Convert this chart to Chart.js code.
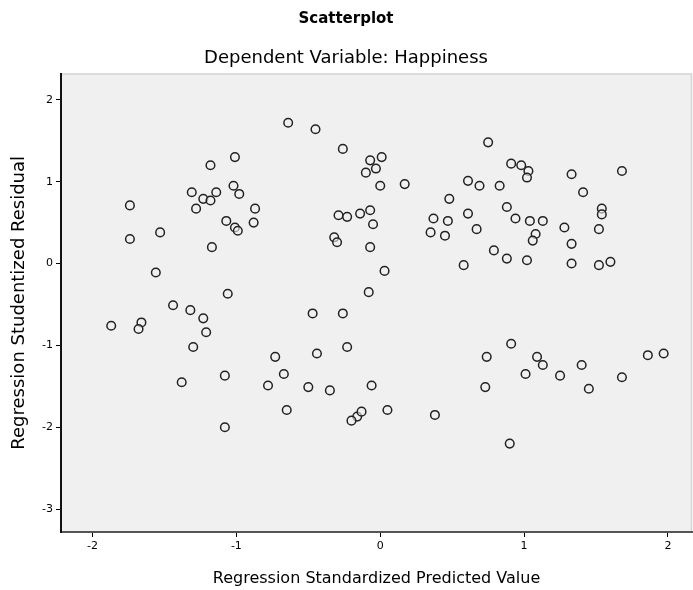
<!DOCTYPE html>
<html>
<head>
<meta charset="utf-8">
<script src="https://cdn.jsdelivr.net/npm/chart.js@4.4.1/dist/chart.umd.min.js"></script>
<style>
  html, body { margin: 0; padding: 0; background: #ffffff; }
  #wrap { width: 693px; height: 590px; }
</style>
</head>
<body>
<div id="wrap"><canvas id="c" width="693" height="590"></canvas></div>
<script>
const chartTitle = "Scatterplot";
const chartSubtitle = "Dependent Variable: Happiness";
const xAxisTitle = "Regression Standardized Predicted Value";
const yAxisTitle = "Regression Studentized Residual";
const xTickValues = [-2, -1, 0, 1, 2];
const yTickValues = [2, 1, 0, -1, -2, -3];

const predicted = [
  -0.64,-0.45,-0.26,-0.07,0.01,-0.03,-0.10,0.00,-1.18,-1.01,
  -1.31,-1.23,-1.14,-1.28,-1.18,-1.02,-0.98,-1.07,-1.01,-0.99,
  -0.87,-0.88,-1.74,-1.53,-1.74,-1.17,-1.56,-1.06,-0.29,-0.14,
  -0.07,-0.05,-0.23,-0.32,-0.30,-0.07,0.03,-0.08,0.17,0.75,
  0.91,0.98,1.03,1.02,0.61,0.69,0.83,1.33,1.41,1.68,
  0.48,1.54,1.54,0.88,0.94,1.04,1.13,1.08,1.06,1.28,
  1.33,1.52,0.37,0.47,0.35,0.45,0.61,0.67,0.79,0.88,
  1.02,0.58,1.33,1.52,1.60,-1.44,-1.32,-1.23,-1.21,-1.87,
  -1.66,-1.68,-1.30,-0.47,-0.26,-0.73,-0.44,-0.23,-1.38,-1.08,
  -0.67,-0.78,-0.50,-0.35,-0.06,-0.65,-0.16,-0.13,-0.20,0.05,
  -1.08,0.38,0.90,0.74,0.91,0.73,1.09,1.13,1.01,1.25,
  1.40,1.45,1.68,1.86,1.97
];
const residual = [
  1.72,1.64,1.40,1.26,1.30,1.16,1.11,0.95,1.20,1.30,
  0.87,0.79,0.87,0.67,0.77,0.95,0.85,0.52,0.44,0.40,
  0.67,0.50,0.71,0.38,0.30,0.20,-0.11,-0.37,0.59,0.61,
  0.65,0.48,0.57,0.32,0.26,0.20,-0.09,-0.35,0.97,1.48,
  1.22,1.20,1.13,1.05,1.01,0.95,0.95,1.09,0.87,1.13,
  0.79,0.67,0.60,0.69,0.55,0.52,0.52,0.36,0.28,0.44,
  0.24,0.42,0.55,0.52,0.38,0.34,0.61,0.42,0.16,0.06,
  0.04,-0.02,0.00,-0.02,0.02,-0.51,-0.57,-0.67,-0.84,-0.76,
  -0.72,-0.80,-1.02,-0.61,-0.61,-1.14,-1.10,-1.02,-1.45,-1.37,
  -1.35,-1.49,-1.51,-1.55,-1.49,-1.79,-1.87,-1.81,-1.92,-1.79,
  -2.00,-1.85,-2.20,-1.14,-0.98,-1.51,-1.14,-1.24,-1.35,-1.37,
  -1.24,-1.53,-1.39,-1.12,-1.10
];

const points = predicted.map((x, i) => ({ x: x, y: residual[i] }));

const plotBg = {
  id: 'plotBg',
  beforeDraw(chart) {
    const { ctx, chartArea: a } = chart;
    ctx.save();
    ctx.fillStyle = '#f0f0f0';
    ctx.fillRect(a.left, a.top, a.right - a.left, a.bottom - a.top);
    ctx.strokeStyle = '#d4d4d4';
    ctx.lineWidth = 1.5;
    ctx.beginPath();
    ctx.moveTo(a.left, a.top + 0.5);
    ctx.lineTo(a.right - 0.5, a.top + 0.5);
    ctx.lineTo(a.right - 0.5, a.bottom);
    ctx.stroke();
    ctx.restore();
  }
};

const fontFam = "'DejaVu Sans', 'Liberation Sans', sans-serif";

new Chart(document.getElementById('c'), {
  type: 'scatter',
  data: {
    datasets: [{
      data: points,
      pointRadius: 4.3,
      pointHoverRadius: 4.3,
      pointBorderWidth: 1.5,
      pointBorderColor: '#222',
      pointBackgroundColor: 'rgba(240,240,240,0.6)'
    }]
  },
  plugins: [plotBg],
  options: {
    responsive: false,
    animation: false,
    devicePixelRatio: 1,
    layout: { autoPadding: false, padding: { top: 0, right: 1, left: 0, bottom: 0 } },
    plugins: {
      legend: { display: false },
      tooltip: { enabled: false },
      title: {
        display: true,
        text: chartTitle,
        color: '#000',
        font: { family: fontFam, size: 15, weight: 'bold', lineHeight: 1.2 },
        padding: { top: 10, bottom: 20 }
      },
      subtitle: {
        display: true,
        text: chartSubtitle,
        color: '#000',
        font: { family: fontFam, size: 18, weight: 'normal', lineHeight: 1.2 },
        padding: { top: 0, bottom: 4 }
      }
    },
    scales: {
      x: {
        type: 'linear',
        min: -2.219,
        max: 2.167,
        afterBuildTicks(scale) { scale.ticks = xTickValues.map(v => ({ value: v })); },
        afterFit(scale) { scale.height = 58; scale.paddingLeft = 0; scale.paddingRight = 0; },
        ticks: {
          color: '#000',
          font: { family: fontFam, size: 11 },
          padding: 3,
          maxRotation: 0,
          autoSkip: false,
          callback: v => String(v)
        },
        grid: {
          display: true,
          drawOnChartArea: false,
          drawTicks: true,
          tickLength: 5,
          color: '#000',
          lineWidth: 1
        },
        border: { display: true, color: '#555', width: 2 },
        title: {
          display: true,
          text: xAxisTitle,
          color: '#000',
          font: { family: fontFam, size: 16 },
          padding: { top: 0, bottom: 2 }
        }
      },
      y: {
        type: 'linear',
        min: -3.28,
        max: 2.32,
        afterBuildTicks(scale) { scale.ticks = yTickValues.map(v => ({ value: v })); },
        afterFit(scale) { scale.width = 61; scale.paddingTop = 0; scale.paddingBottom = 0; },
        ticks: {
          color: '#000',
          font: { family: fontFam, size: 11 },
          padding: 3,
          autoSkip: false,
          callback: v => String(v)
        },
        grid: {
          display: true,
          drawOnChartArea: false,
          drawTicks: true,
          tickLength: 5,
          color: '#000',
          lineWidth: 1
        },
        border: { display: true, color: '#111', width: 2 },
        title: {
          display: true,
          text: yAxisTitle,
          color: '#000',
          font: { family: fontFam, size: 18 },
          padding: { top: 9, bottom: 0 }
        }
      }
    }
  }
});
</script>
</body>
</html>
